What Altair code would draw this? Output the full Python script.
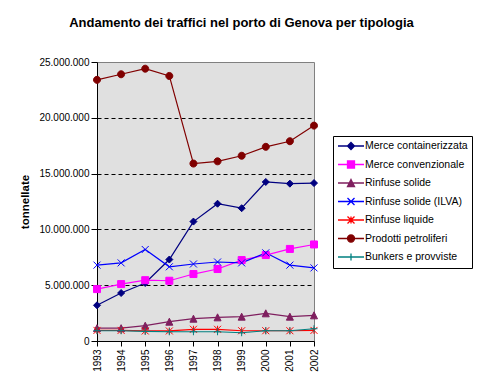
import altair as alt
import pandas as pd

anni = [1993, 1994, 1995, 1996, 1997, 1998, 1999, 2000, 2001, 2002]
serie = ["Merce containerizzata", "Merce convenzionale", "Rinfuse solide",
         "Rinfuse solide (ILVA)", "Rinfuse liquide", "Prodotti petroliferi",
         "Bunkers e provviste"]
merce_containerizzata = [3200000, 4300000, 5200000, 7300000, 10700000, 12300000, 11900000, 14250000, 14100000, 14150000]
merce_convenzionale = [4650000, 5100000, 5450000, 5400000, 6000000, 6450000, 7250000, 7700000, 8250000, 8650000]
rinfuse_solide = [1150000, 1150000, 1370000, 1730000, 2000000, 2120000, 2180000, 2480000, 2180000, 2300000]
rinfuse_solide_ilva = [6800000, 7000000, 8200000, 6650000, 6900000, 7080000, 7000000, 7900000, 6800000, 6550000]
rinfuse_liquide = [950000, 950000, 900000, 900000, 1050000, 1050000, 920000, 920000, 920000, 950000]
prodotti_petroliferi = [23400000, 23900000, 24400000, 23750000, 15900000, 16100000, 16600000, 17400000, 17900000, 19300000]
bunkers_provviste = [920000, 920000, 860000, 830000, 830000, 830000, 740000, 920000, 920000, 1100000]
colori = ["#000080", "#FF00FF", "#7F1F5F", "#0000FF", "#FF0000", "#800000", "#008080"]
tick_y = [0, 5000000, 10000000, 15000000, 20000000, 25000000]

valori = [merce_containerizzata, merce_convenzionale, rinfuse_solide,
          rinfuse_solide_ilva, rinfuse_liquide, prodotti_petroliferi, bunkers_provviste]
rows = []
for nome, vals in zip(serie, valori):
    for a, v in zip(anni, vals):
        rows.append({"anno": a, "valore": v, "serie": nome})
df = pd.DataFrame(rows)


def f(v):
    return f"{v:.3g}"


def diamond(s):
    return f"M0,{f(-s)}L{f(s)},0L0,{f(s)}L{f(-s)},0Z"


def square(s):
    return f"M{f(-s)},{f(-s)}L{f(s)},{f(-s)}L{f(s)},{f(s)}L{f(-s)},{f(s)}Z"


def triangle(s):
    return f"M0,{f(-s)}L{f(s)},{f(s)}L{f(-s)},{f(s)}Z"


def xmark(s):
    return f"M{f(-s)},{f(-s)}L{f(s)},{f(s)}M{f(-s)},{f(s)}L{f(s)},{f(-s)}"


def asterisk(s):
    return xmark(s) + f"M0,{f(-s)}L0,{f(s)}"


def circle(s):
    return f"M{f(-s)},0A{f(s)},{f(s)},0,1,1,{f(s)},0A{f(s)},{f(s)},0,1,1,{f(-s)},0Z"


def plus(s):
    return f"M{f(-s)},0L{f(s)},0M0,{f(-s)}L0,{f(s)}"


marker_fns = [diamond, square, triangle, xmark, asterisk, circle, plus]
marker_paths = [fn(1.0) for fn in marker_fns]
legend_paths = ["M-2.6,0L2.6,0" + fn(0.7) for fn in marker_fns]

FONT = "Liberation Sans"

legend = alt.Legend(
    title=None, orient="none", legendX=236, legendY=74,
    strokeColor="black", fillColor="white", padding=4,
    symbolSize=100, symbolStrokeWidth=1.3, symbolOpacity=1, symbolOffset=8,
    rowPadding=4.5, labelOffset=8,
    labelFont=FONT, labelFontSize=10.5, labelColor="black",
)

x_enc = alt.X("anno:O", scale=alt.Scale(padding=0),
              axis=alt.Axis(title=None, labelAngle=-90, labelFont=FONT, labelFontSize=10,
                            labelColor="black", domainColor="black", tickColor="black",
                            tickSize=5, labelPadding=3, grid=False))
y_enc = alt.Y("valore:Q", scale=alt.Scale(domain=[0, 25000000], nice=False, zero=True),
              axis=alt.Axis(values=tick_y, title="tonnellate",
                            labelExpr="replace(replace(format(datum.value, ','), ',', '.'), ',', '.')",
                            labelFont=FONT, labelFontSize=10, labelColor="black",
                            labelPadding=2, tickSize=6, tickColor="black", domainColor="black",
                            titleFont=FONT, titleFontSize=11.5, titleFontWeight="bold",
                            titleColor="black", titleAngle=270, titleX=-69, titleY=139.5,
                            titleAlign="center", titleBaseline="alphabetic",
                            grid=True, gridColor="black", gridDash=[4, 3], gridWidth=1,
                            gridOpacity={"condition": {"test": "datum.value == 0 || datum.value >= 25000000", "value": 0}, "value": 1}))

lines = alt.Chart(df).mark_line(strokeWidth=1.2).encode(
    x=x_enc, y=y_enc,
    color=alt.Color("serie:N", scale=alt.Scale(domain=serie, range=colori), legend=None),
    detail="serie:N",
)

points = alt.Chart(df).mark_point(filled=True, size=49, strokeWidth=1, opacity=1).encode(
    x=x_enc, y=y_enc,
    fill=alt.Fill("serie:N", scale=alt.Scale(domain=serie, range=colori), legend=None),
    stroke=alt.Stroke("serie:N", scale=alt.Scale(domain=serie, range=colori), legend=None),
    shape=alt.Shape("serie:N", scale=alt.Scale(domain=serie, range=marker_paths), legend=None),
)

legend_layer = alt.Chart(df).mark_point(filled=True, size=100, strokeWidth=1, opacity=0).encode(
    x=x_enc, y=y_enc,
    fill=alt.Fill("serie:N", scale=alt.Scale(domain=serie, range=colori), legend=legend, sort=serie),
    stroke=alt.Stroke("serie:N", scale=alt.Scale(domain=serie, range=colori), legend=legend, sort=serie),
    shape=alt.Shape("serie:N", scale=alt.Scale(domain=serie, range=legend_paths), legend=legend, sort=serie),
)

chart = alt.layer(lines, points, legend_layer).resolve_scale(
    shape="independent", fill="independent", stroke="independent"
).properties(
    width=217, height=279,
    title=alt.TitleParams("Andamento dei traffici nel porto di Genova per tipologia",
                          font=FONT, fontSize=13, fontWeight="bold", color="black",
                          anchor="middle", frame="group", dx=36, offset=17,
                          baseline="alphabetic"),
    autosize=alt.AutoSizeParams(type="none"),
    padding={"left": 89, "top": 54, "right": 160, "bottom": 38},
    background="white",
).configure_view(fill="#E0E0E0", stroke="#808080", strokeWidth=1)

chart.save("out.html", embed_options={"renderer": "svg", "actions": False})
